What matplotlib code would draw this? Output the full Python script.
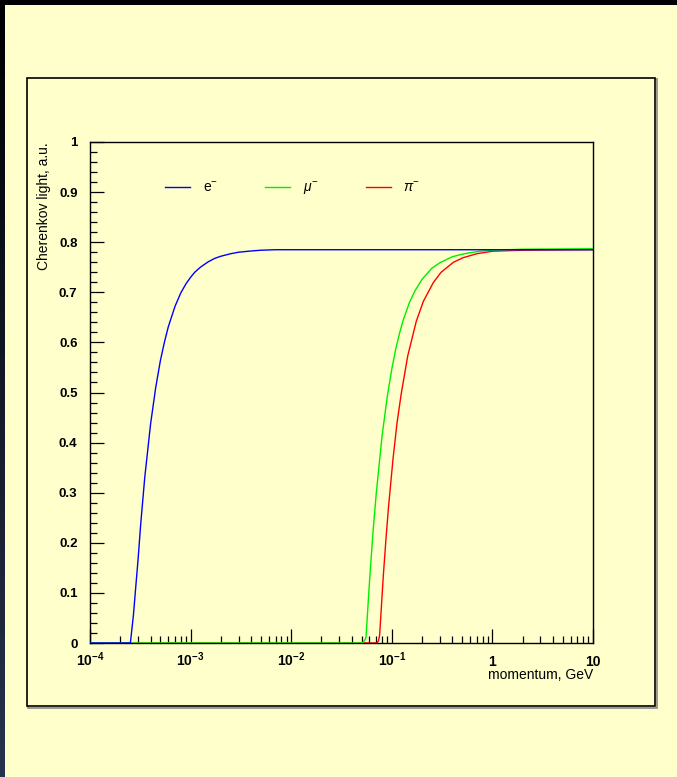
import numpy as np
import matplotlib
matplotlib.use("Agg")
import matplotlib.pyplot as plt
from matplotlib.patches import Rectangle
from matplotlib.ticker import FixedLocator, NullFormatter

plt.rcParams['font.family'] = ['Liberation Sans', 'DejaVu Sans']
plt.rcParams['mathtext.fontset'] = 'custom'
plt.rcParams['mathtext.rm'] = 'Liberation Sans'
plt.rcParams['mathtext.it'] = 'Liberation Sans:italic'
plt.rcParams['mathtext.bf'] = 'Liberation Sans:bold'

# values (momentum in GeV, light in a.u.)
p_e = [1e-4, 2.52e-4, 2.7e-4, 2.85e-4, 3.0e-4, 3.2e-4, 3.5e-4, 4.0e-4, 4.5e-4, 5e-4, 5.5e-4,
       6e-4, 7e-4, 8e-4, 9e-4, 1e-3, 1.1e-3, 1.25e-3, 1.5e-3, 1.75e-3, 2e-3,
       2.5e-3, 3e-3, 4e-3, 5e-3, 7e-3, 1e-2, 10]
y_e = [0, 0, 0.055, 0.112, 0.165, 0.240, 0.330, 0.437, 0.510, 0.563, 0.601,
       0.631, 0.672, 0.699, 0.717, 0.730, 0.740, 0.750, 0.761, 0.768, 0.772,
       0.777, 0.780, 0.7825, 0.784, 0.785, 0.785, 0.785]

p_mu = [1e-4, 0.049, 0.052, 0.054, 0.0555, 0.057, 0.06, 0.065, 0.07, 0.08, 0.09,
        0.1, 0.11, 0.12, 0.13, 0.15, 0.17, 0.2, 0.25, 0.3, 0.4, 0.5, 0.6, 0.75,
        1, 2, 10]
y_mu = [0, 0, 0.002, 0.006, 0.012, 0.051, 0.122, 0.221, 0.298, 0.413, 0.491,
        0.547, 0.589, 0.620, 0.645, 0.680, 0.703, 0.726, 0.748, 0.759, 0.771, 0.776, 0.779, 0.782,
        0.784, 0.786, 0.787]

p_pi = [1e-4, 0.0705, 0.0737, 0.0757, 0.0773, 0.0824, 0.0876, 0.0927, 0.103, 0.113, 0.124,
        0.144, 0.175, 0.206, 0.258, 0.309, 0.41, 0.51, 0.7, 1, 2, 10]
y_pi = [0, 0, 0.004, 0.016, 0.045, 0.135, 0.209, 0.271, 0.369, 0.441, 0.497,
        0.573, 0.642, 0.682, 0.719, 0.740, 0.760, 0.769, 0.777, 0.782, 0.784, 0.785]

x_ticks = [1e-4, 1e-3, 1e-2, 1e-1, 1, 10]
x_labels = [r'$\mathbf{10^{-4}}$', r'$\mathbf{10^{-3}}$', r'$\mathbf{10^{-2}}$',
            r'$\mathbf{10^{-1}}$', '1', '10']
y_ticks = [0, 0.1, 0.2, 0.3, 0.4, 0.5, 0.6, 0.7, 0.8, 0.9, 1]
y_labels = ['0', '0.1', '0.2', '0.3', '0.4', '0.5', '0.6', '0.7', '0.8', '0.9', '1']

bg = '#ffffcc'
W, H = 677, 777
fig = plt.figure(figsize=(W / 100, H / 100), dpi=100, facecolor=bg)

# dark border on top and left
fig.patches.append(Rectangle((0, 1 - 5 / H), 1, 5 / H, transform=fig.transFigure,
                             facecolor='black', edgecolor='none', zorder=-2))
strip = fig.add_axes([0, 0, 5 / W, 1])
strip.imshow(np.linspace(1, 0, 50).reshape(-1, 1), aspect='auto',
             cmap=matplotlib.colors.LinearSegmentedColormap.from_list('s', ['#26324c', '#000000']))
strip.axis('off')

# pad frame with small shadow
fig.patches.append(Rectangle((28 / W, 1 - 708 / H), 629 / W, 629 / H, transform=fig.transFigure,
                             facecolor='none', edgecolor='#888888', lw=1.2, zorder=-2))
fig.patches.append(Rectangle((27 / W, 1 - 706 / H), 628 / W, 628 / H, transform=fig.transFigure,
                             facecolor=bg, edgecolor='black', lw=1.2, zorder=-1))

ax = fig.add_axes([90 / W, 1 - 643 / H, 503 / W, 501 / H])
ax.set_zorder(5)
ax.patch.set_alpha(0)

ax.plot(p_pi, y_pi, color='#ff0000', lw=1.0, zorder=2, label=r'$\pi^{-}$')
ax.plot(p_mu, y_mu, color='#00ee00', lw=1.0, zorder=3, label=r'$\mu^{-}$')
ax.plot(p_e, y_e, color='#0000ff', lw=1.0, zorder=4, label=r'e$^{-}$')

ax.set_xscale('log')
ax.set_xlim(1e-4, 10)
ax.set_ylim(0, 1)

ax.set_xticks(x_ticks)
ax.set_xticklabels(x_labels)
minors = [m * 10.0 ** k for k in range(-4, 1) for m in range(2, 10)]
ax.xaxis.set_minor_locator(FixedLocator(minors))
ax.xaxis.set_minor_formatter(NullFormatter())
ax.set_yticks(y_ticks)
ax.set_yticklabels(y_labels)
ax.yaxis.set_minor_locator(FixedLocator([i * 0.02 for i in range(51)]))

ax.tick_params(which='both', direction='in', top=False, right=False, width=0.9)
ax.tick_params(which='major', length=10)
ax.tick_params(which='minor', length=5)
ax.tick_params(axis='y', pad=9)
ax.tick_params(axis='x', pad=16.5)

for lab in ax.get_yticklabels():
    lab.set_fontweight('bold')
    lab.set_fontsize(9.5)
for lab in ax.get_xticklabels():
    lab.set_fontweight('bold')
    lab.set_fontsize(10)
    lab.set_verticalalignment('baseline')

for s in ax.spines.values():
    s.set_linewidth(1.0)

ax.set_ylabel('Cherenkov light, a.u.', fontsize=10, loc='top')
ax.yaxis.set_label_coords(-0.078, 1.0)
ax.set_xlabel('momentum, GeV', fontsize=10, loc='right')
ax.xaxis.set_label_coords(1.0, -0.05)

h, l = ax.get_legend_handles_labels()
ax.legend(h[::-1], l[::-1], ncol=3, frameon=False, fontsize=10,
          loc='center left', bbox_to_anchor=(0.136, 0.906),
          handlelength=1.8, handletextpad=0.9, columnspacing=3.4, borderpad=0)

fig.savefig('out.png', dpi=100, facecolor=bg)
